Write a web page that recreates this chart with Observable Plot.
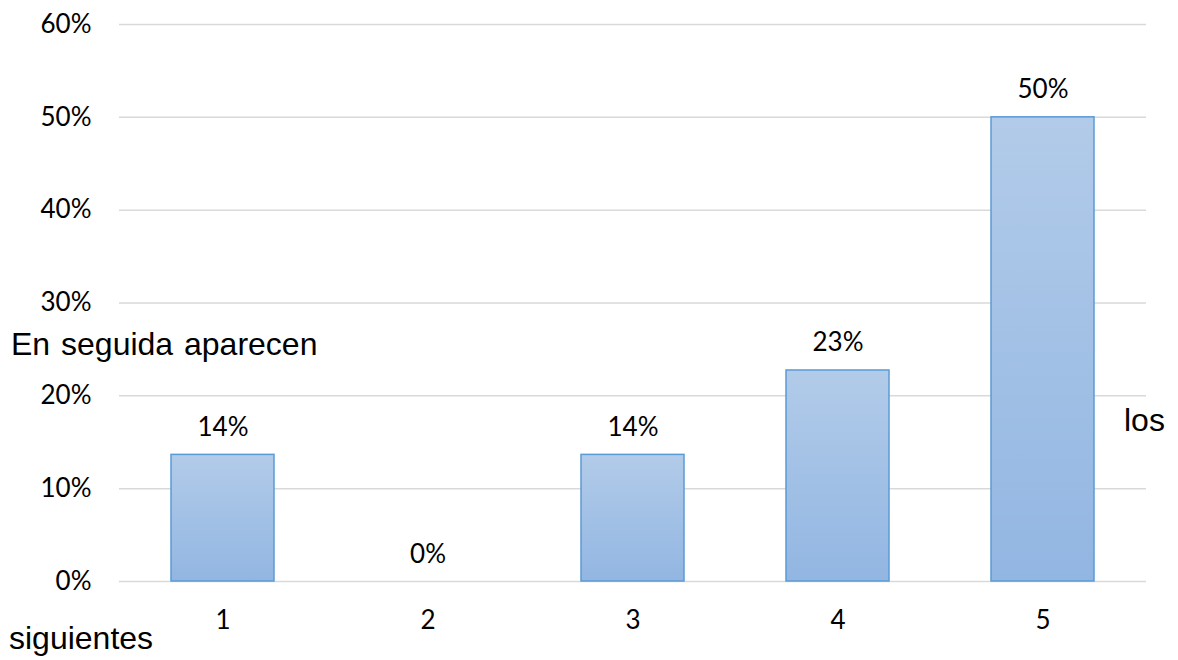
<!DOCTYPE html>
<html>
<head>
<meta charset="utf-8">
<script src="https://cdn.jsdelivr.net/npm/d3@7"></script>
<script src="https://cdn.jsdelivr.net/npm/@observablehq/plot@0.6"></script>
<style>
  html, body { margin: 0; padding: 0; background: #fff; }
  #wrap { position: relative; width: 1178px; height: 660px; overflow: hidden; }
  .overlay { position: absolute; font-family: "Liberation Sans", Arial, sans-serif; font-size: 32px; color: #000; white-space: nowrap; line-height: 1; }
</style>
</head>
<body>
<div id="wrap"></div>
<script>
const categories = ["1", "2", "3", "4", "5"];
const values = [0.1364, 0, 0.1364, 0.2273, 0.5];
const valueLabels = ["14%", "0%", "14%", "23%", "50%"];
const yTicks = [0, 0.1, 0.2, 0.3, 0.4, 0.5, 0.6];
const overlayTexts = ["En seguida aparecen", "los", "siguientes"];

const data = categories.map((c, i) => ({cat: c, value: values[i], label: valueLabels[i]}));

const chart = Plot.plot({
  width: 1178,
  height: 660,
  marginTop: 24,
  marginBottom: 79,
  marginLeft: 119,
  marginRight: 32,
  style: {fontFamily: "Lato, sans-serif", fontSize: "26px", color: "#000", background: "#fff"},
  x: {domain: categories, paddingInner: 0.5, paddingOuter: 0.25, label: null},
  y: {domain: [0, 0.6], label: null},
  marks: [
    Plot.ruleY(yTicks, {stroke: "#d9d9d9", strokeWidth: 1.5}),
    Plot.barY(data, {x: "cat", y: "value", fill: "url(#barGrad)", stroke: "#5b9bd5", strokeWidth: 1.5}),
    Plot.text(data, {x: "cat", y: "value", text: "label", dy: -19, lineAnchor: "bottom", fill: "#000", fontSize: 26}),
    Plot.axisY({ticks: yTicks, tickSize: 0, tickPadding: 28, tickFormat: d3.format(".0%"), label: null, fontSize: 26}),
    Plot.axisX({tickSize: 0, tickPadding: 29, label: null, fontSize: 26})
  ]
});

const svg = d3.select(chart);
const defs = svg.insert("defs", ":first-child");
const grad = defs.append("linearGradient").attr("id", "barGrad").attr("x1", 0).attr("y1", 0).attr("x2", 0).attr("y2", 1);
grad.append("stop").attr("offset", "0%").attr("stop-color", "#b2cbe9");
grad.append("stop").attr("offset", "100%").attr("stop-color", "#92b6e2");

const wrap = document.getElementById("wrap");
wrap.appendChild(chart);

const positions = [[11, 328], [1124, 404], [9, 622]];
overlayTexts.forEach((t, i) => {
  const d = document.createElement("div");
  d.className = "overlay";
  d.textContent = t;
  d.style.left = positions[i][0] + "px";
  d.style.top = positions[i][1] + "px";
  if (i === 0) d.style.wordSpacing = "2px";
  wrap.appendChild(d);
});
</script>
</body>
</html>
